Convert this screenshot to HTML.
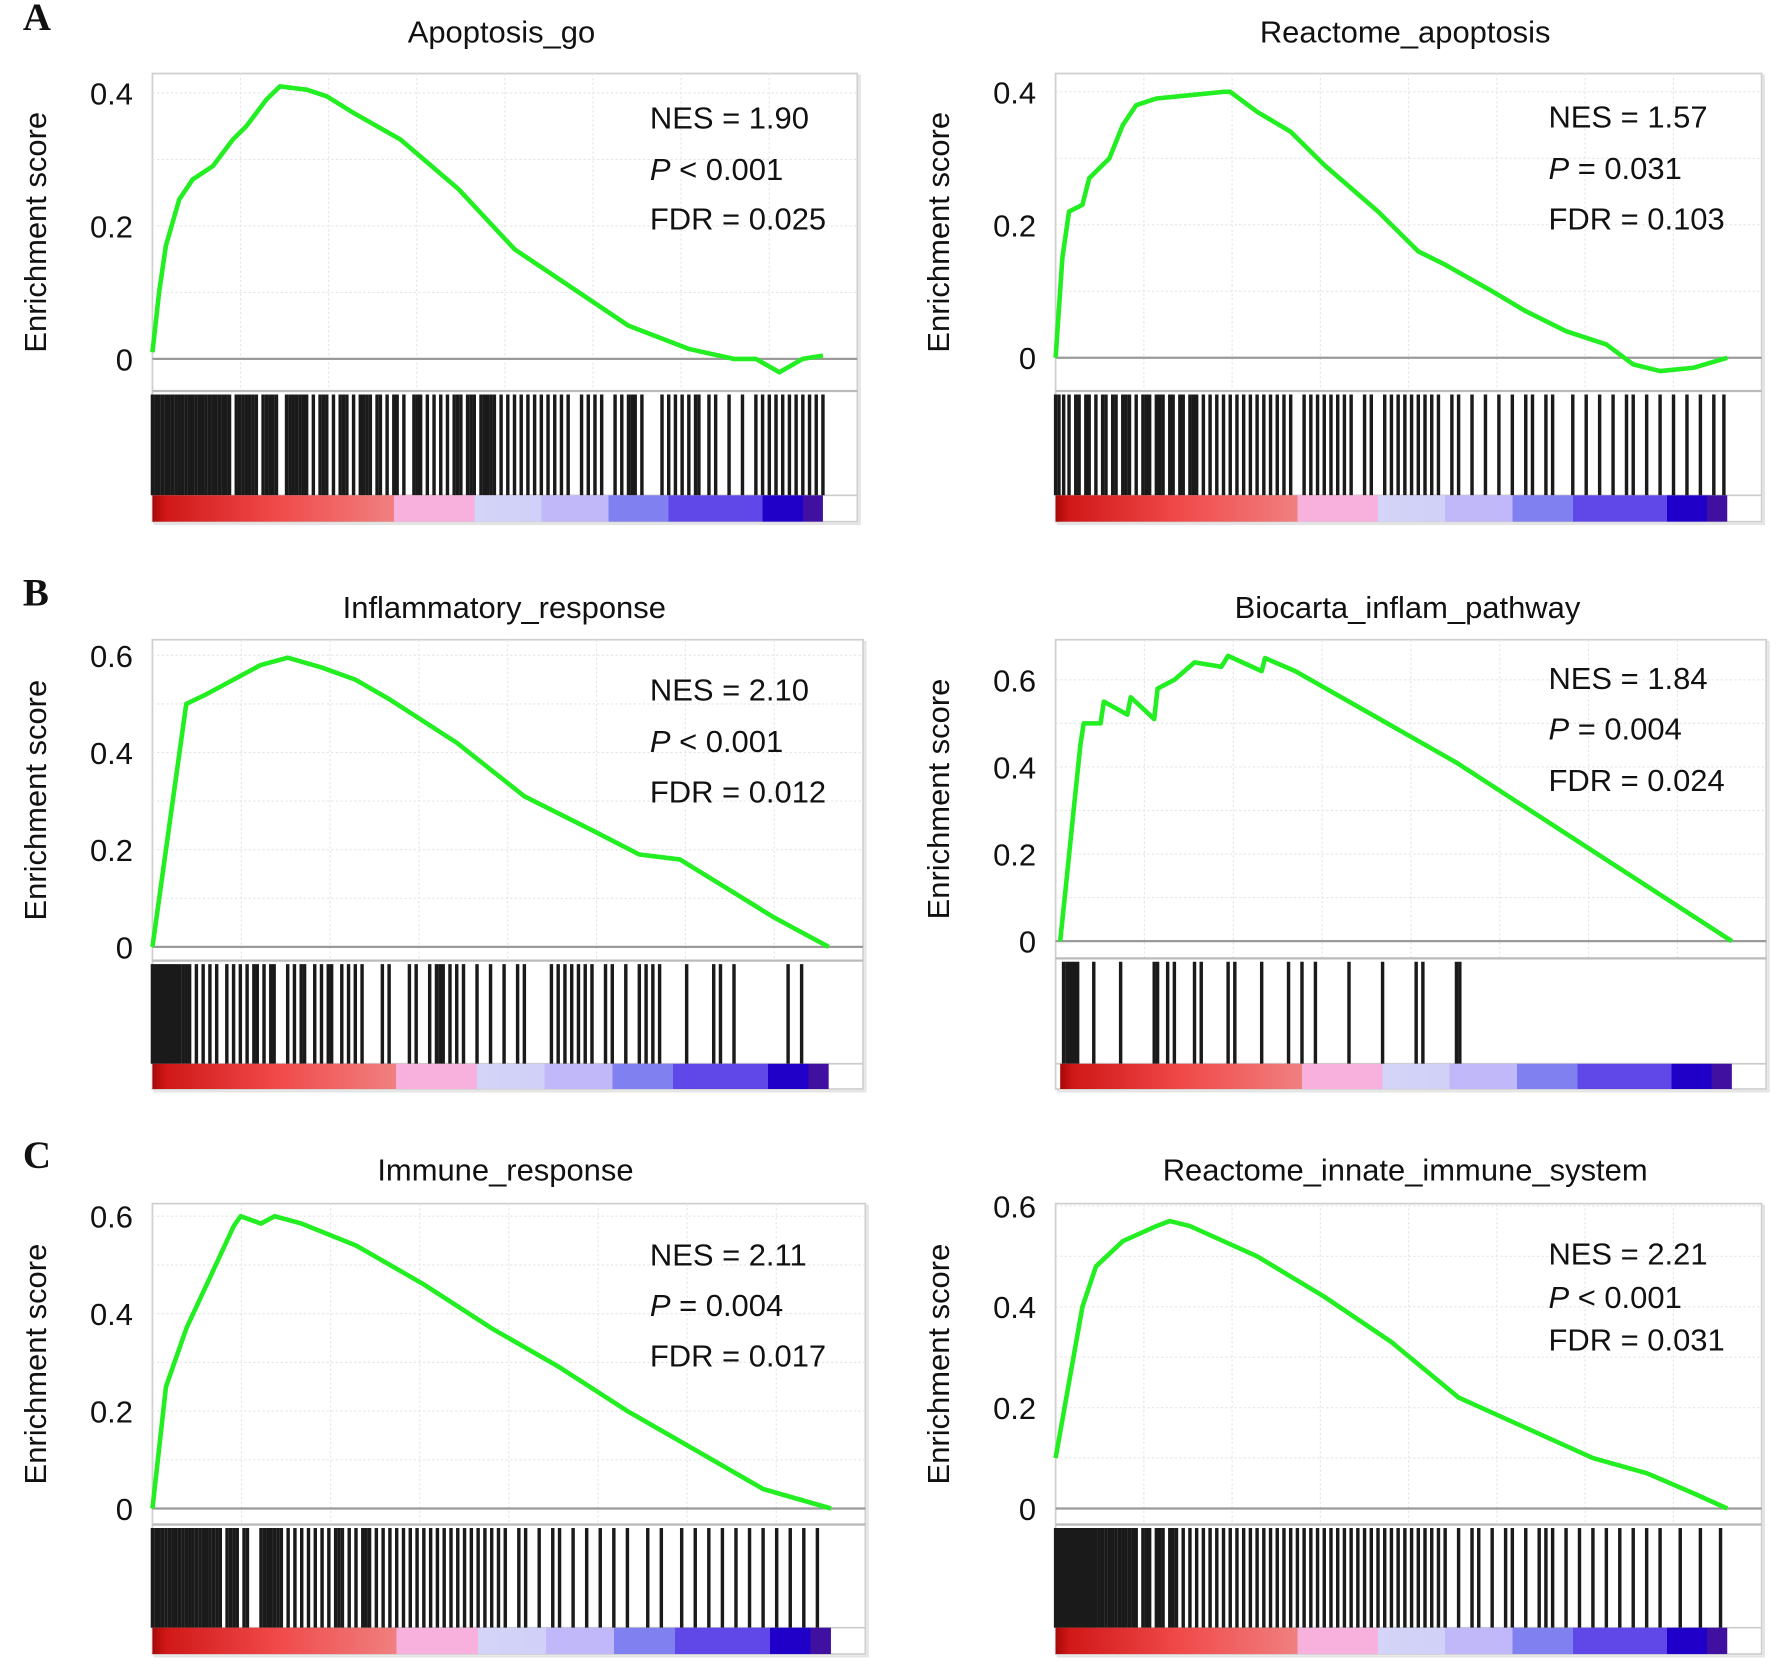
<!DOCTYPE html>
<html><head><meta charset="utf-8">
<style>
html,body{margin:0;padding:0;background:#fff;}
svg{display:block;}
text{font-family:"Liberation Sans",Arial,sans-serif;fill:#111;}
.lt{font-family:"Liberation Serif",serif;font-weight:bold;}
</style></head>
<body>
<svg id="fig" width="1788" height="1676" viewBox="0 0 1560 1462" xmlns="http://www.w3.org/2000/svg">
<defs>
<linearGradient id="rank" x1="0" x2="1" y1="0" y2="0">
<stop offset="0" stop-color="#a80808"/><stop offset="0.02" stop-color="#d01818"/>
<stop offset="0.18" stop-color="#f04848"/><stop offset="0.36" stop-color="#f08080"/>
<stop offset="0.36" stop-color="#f8b0dc"/><stop offset="0.48" stop-color="#f8b0dc"/>
<stop offset="0.48" stop-color="#d4d4f8"/><stop offset="0.58" stop-color="#d0d0f8"/>
<stop offset="0.58" stop-color="#c0b8f8"/><stop offset="0.68" stop-color="#c0b8f8"/>
<stop offset="0.68" stop-color="#8080f0"/><stop offset="0.77" stop-color="#8080f0"/>
<stop offset="0.77" stop-color="#6048e8"/><stop offset="0.91" stop-color="#6048e8"/>
<stop offset="0.91" stop-color="#2000c8"/><stop offset="0.97" stop-color="#2000c8"/>
<stop offset="0.97" stop-color="#4010a0"/><stop offset="1" stop-color="#4010a0"/>
</linearGradient>
</defs>
</svg>
<script>
// ---- data ----
const A1_rank=[0,0.01,0.02,0.04,0.06,0.09,0.12,0.14,0.17,0.19,0.23,0.26,0.3,0.37,0.457,0.54,0.636,0.71,0.8,0.867,0.9,0.935,0.97,1];
const A1_es=[0.01,0.1,0.17,0.24,0.27,0.29,0.33,0.35,0.39,0.41,0.405,0.395,0.37,0.33,0.255,0.165,0.1,0.05,0.015,0.0,0.0,-0.02,0.0,0.005];
const A1_hits=[0,0.005,0.01,0.015,0.02,0.025,0.03,0.035,0.04,0.045,0.05,0.055,0.06,0.065,0.07,0.075,0.08,0.085,0.09,0.095,0.1,0.105,0.11,0.115,0.125,0.13,0.135,0.14,0.145,0.15,0.155,0.165,0.17,0.175,0.18,0.185,0.2,0.205,0.21,0.215,0.22,0.225,0.23,0.24,0.25,0.255,0.26,0.27,0.28,0.285,0.29,0.3,0.31,0.315,0.32,0.325,0.335,0.34,0.35,0.36,0.365,0.375,0.39,0.395,0.4,0.41,0.42,0.43,0.44,0.45,0.455,0.46,0.47,0.475,0.48,0.49,0.495,0.5,0.505,0.51,0.52,0.53,0.54,0.55,0.56,0.57,0.58,0.59,0.6,0.61,0.62,0.64,0.65,0.66,0.67,0.69,0.7,0.71,0.715,0.72,0.73,0.76,0.77,0.78,0.79,0.8,0.81,0.815,0.83,0.84,0.86,0.88,0.9,0.91,0.92,0.93,0.94,0.95,0.96,0.97,0.98,0.99,1];
const A2_rank=[0,0.01,0.02,0.04,0.05,0.08,0.1,0.12,0.15,0.2,0.25,0.26,0.3,0.35,0.4,0.48,0.54,0.58,0.65,0.7,0.76,0.82,0.86,0.9,0.95,1];
const A2_es=[0,0.15,0.22,0.23,0.27,0.3,0.35,0.38,0.39,0.395,0.4,0.4,0.37,0.34,0.29,0.22,0.16,0.14,0.1,0.07,0.04,0.02,-0.01,-0.02,-0.015,0.0];
const A2_hits=[0,0.005,0.012,0.02,0.03,0.035,0.045,0.05,0.06,0.07,0.075,0.085,0.09,0.1,0.105,0.11,0.12,0.13,0.135,0.14,0.15,0.155,0.16,0.17,0.175,0.185,0.19,0.2,0.205,0.21,0.22,0.23,0.24,0.25,0.26,0.27,0.28,0.29,0.3,0.31,0.32,0.33,0.34,0.35,0.37,0.38,0.39,0.4,0.41,0.42,0.43,0.44,0.46,0.47,0.49,0.5,0.51,0.52,0.53,0.54,0.55,0.56,0.57,0.59,0.6,0.62,0.64,0.66,0.68,0.7,0.71,0.73,0.74,0.77,0.79,0.81,0.83,0.85,0.86,0.88,0.9,0.92,0.94,0.96,0.98,0.995];
const B1_rank=[0,0.02,0.04,0.05,0.08,0.12,0.16,0.2,0.25,0.3,0.35,0.45,0.55,0.65,0.72,0.78,0.85,0.92,1];
const B1_es=[0,0.2,0.4,0.5,0.52,0.55,0.58,0.595,0.575,0.55,0.51,0.42,0.31,0.24,0.19,0.18,0.12,0.06,0];
const B1_hits=[0,0.004,0.008,0.012,0.016,0.02,0.024,0.028,0.032,0.036,0.04,0.045,0.05,0.055,0.065,0.075,0.085,0.095,0.11,0.12,0.13,0.14,0.15,0.155,0.165,0.175,0.18,0.2,0.21,0.22,0.225,0.24,0.25,0.26,0.265,0.28,0.29,0.3,0.31,0.34,0.35,0.38,0.39,0.41,0.42,0.425,0.43,0.44,0.45,0.46,0.48,0.5,0.52,0.54,0.55,0.59,0.6,0.61,0.62,0.63,0.64,0.65,0.67,0.68,0.7,0.72,0.73,0.74,0.75,0.79,0.83,0.84,0.86,0.94,0.96];
const B2_rank=[0,0.01,0.02,0.03,0.035,0.06,0.065,0.1,0.105,0.14,0.145,0.17,0.2,0.24,0.25,0.3,0.305,0.35,0.59,1];
const B2_es=[0,0.15,0.3,0.45,0.5,0.5,0.55,0.52,0.56,0.51,0.58,0.6,0.64,0.63,0.655,0.62,0.65,0.62,0.41,0];
const B2_hits=[0.005,0.01,0.014,0.018,0.022,0.026,0.05,0.09,0.14,0.145,0.16,0.17,0.2,0.21,0.25,0.26,0.3,0.34,0.36,0.38,0.43,0.48,0.53,0.54,0.59,0.595];
const C1_rank=[0,0.02,0.05,0.08,0.1,0.12,0.13,0.16,0.18,0.22,0.3,0.4,0.5,0.6,0.7,0.8,0.9,0.95,1];
const C1_es=[0,0.25,0.37,0.46,0.52,0.58,0.6,0.585,0.6,0.585,0.54,0.46,0.37,0.29,0.2,0.12,0.04,0.02,0];
const C1_hits=[0,0.005,0.01,0.015,0.02,0.025,0.03,0.035,0.04,0.045,0.05,0.055,0.06,0.065,0.07,0.075,0.08,0.085,0.09,0.095,0.1,0.11,0.115,0.12,0.125,0.135,0.14,0.16,0.165,0.17,0.175,0.18,0.185,0.19,0.2,0.21,0.22,0.23,0.24,0.25,0.26,0.27,0.275,0.28,0.29,0.3,0.31,0.315,0.32,0.33,0.34,0.35,0.36,0.37,0.38,0.39,0.4,0.41,0.42,0.43,0.44,0.45,0.46,0.47,0.48,0.49,0.5,0.51,0.52,0.54,0.55,0.57,0.59,0.6,0.62,0.64,0.66,0.68,0.7,0.73,0.75,0.78,0.8,0.82,0.84,0.86,0.88,0.9,0.92,0.94,0.96,0.98];
const C2_rank=[0,0.02,0.04,0.06,0.1,0.15,0.17,0.2,0.25,0.3,0.4,0.5,0.6,0.7,0.8,0.88,0.95,1];
const C2_es=[0.1,0.25,0.4,0.48,0.53,0.56,0.57,0.56,0.53,0.5,0.42,0.33,0.22,0.16,0.1,0.07,0.03,0];
const C2_hits=[0,0.004,0.008,0.012,0.016,0.02,0.024,0.028,0.032,0.036,0.04,0.044,0.048,0.052,0.056,0.06,0.065,0.07,0.075,0.08,0.085,0.09,0.095,0.1,0.105,0.11,0.115,0.12,0.13,0.135,0.14,0.15,0.155,0.16,0.17,0.175,0.18,0.19,0.2,0.21,0.22,0.23,0.24,0.25,0.26,0.27,0.28,0.29,0.3,0.31,0.32,0.33,0.34,0.35,0.36,0.37,0.38,0.39,0.4,0.41,0.42,0.43,0.44,0.45,0.46,0.47,0.48,0.49,0.5,0.51,0.52,0.53,0.54,0.55,0.56,0.57,0.58,0.6,0.62,0.63,0.65,0.67,0.68,0.7,0.72,0.73,0.74,0.76,0.78,0.8,0.82,0.84,0.86,0.88,0.9,0.93,0.96,0.99];

const panels=[
 {id:'apoptosis-go',title:'Apoptosis_go',letter:'A',bx:133,bw:615,top:64,x1:718,yTicks:[0,0.2,0.4],y0:313,unit:580,esBot:341,hitBot:432,cbBot:455,lab:['NES = 1.90','< 0.001','FDR = 0.025'],tx:567,ty:[102,147,190],rank:A1_rank,es:A1_es,hits:A1_hits,titleY:28},
 {id:'reactome-apoptosis',title:'Reactome_apoptosis',bx:921,bw:616,top:64,x1:1507,yTicks:[0,0.2,0.4],y0:312,unit:580,esBot:341,hitBot:432,cbBot:455,lab:['NES = 1.57','= 0.031','FDR = 0.103'],tx:1351,ty:[101,146,190],rank:A2_rank,es:A2_es,hits:A2_hits,titleY:28},
 {id:'inflammatory-response',title:'Inflammatory_response',letter:'B',bx:133,bw:620,top:558,x1:723,yTicks:[0,0.2,0.4,0.6],y0:826,unit:424,esBot:838,hitBot:928,cbBot:950,lab:['NES = 2.10','< 0.001','FDR = 0.012'],tx:567,ty:[601,646,690],rank:B1_rank,es:B1_es,hits:B1_hits,titleY:530},
 {id:'biocarta-inflam-pathway',title:'Biocarta_inflam_pathway',bx:921,bw:620,top:558,x0:925,x1:1511,yTicks:[0,0.2,0.4,0.6],y0:821,unit:380,esBot:836,hitBot:928,cbBot:950,lab:['NES = 1.84','= 0.004','FDR = 0.024'],tx:1351,ty:[591,635,680],rank:B2_rank,es:B2_es,hits:B2_hits,titleY:530},
 {id:'immune-response',title:'Immune_response',letter:'C',bx:133,bw:622,top:1050,x1:725,yTicks:[0,0.2,0.4,0.6],y0:1316,unit:425,esBot:1330,hitBot:1420,cbBot:1443,lab:['NES = 2.11','= 0.004','FDR = 0.017'],tx:567,ty:[1094,1138,1182],rank:C1_rank,es:C1_es,hits:C1_hits,titleY:1021},
 {id:'reactome-innate-immune-system',title:'Reactome_innate_immune_system',bx:921,bw:616,top:1050,x1:1507,yTicks:[0,0.2,0.4,0.6],y0:1316,unit:440,esBot:1330,hitBot:1420,cbBot:1443,lab:['NES = 2.21','< 0.001','FDR = 0.031'],tx:1351,ty:[1093,1131,1168],rank:C2_rank,es:C2_es,hits:C2_hits,titleY:1021}
];
const NS='http://www.w3.org/2000/svg';
const svg=document.getElementById('fig');
function mk(tag,attrs,parent,txt){const e=document.createElementNS(NS,tag);for(const k in attrs)e.setAttribute(k,attrs[k]);if(txt!==undefined)e.textContent=txt;(parent||svg).appendChild(e);return e;}

panels.forEach(p=>{
 const g=mk('g',{});
 
 
 const x0=p.x0||p.bx;
 const xs=r=>x0+r*(p.x1-x0);
 const ys=v=>p.y0-v*p.unit;
 const right=p.bx+p.bw;
 mk('rect',{x:p.bx+2,y:p.top+2,width:p.bw,height:p.cbBot-p.top,fill:'none',stroke:'#e4e4e4','stroke-width':2},g);
 const box=mk('rect',{x:p.bx,y:p.top,width:p.bw,height:p.cbBot-p.top,fill:'#fff',stroke:'#cfcfcf','stroke-width':1.5},g);
 
 
 for(let i=1;i<8;i++){const gx=p.bx+i*p.bw/8;mk('line',{x1:gx,x2:gx,y1:p.top,y2:p.esBot,stroke:'#e6e6e6','stroke-width':1,'stroke-dasharray':'2,2'},g);}
 for(let v=-0.1;v<=0.75;v+=0.1){const gy=ys(v);if(gy>p.top&&gy<p.esBot&&Math.abs(v)>1e-6)mk('line',{x1:p.bx,x2:right,y1:gy,y2:gy,stroke:'#e6e6e6','stroke-width':1,'stroke-dasharray':'2,2'},g);}
 mk('line',{x1:p.bx,x2:right,y1:p.y0,y2:p.y0,stroke:'#9a9a9a','stroke-width':2},g);
 mk('line',{x1:p.bx,x2:right,y1:p.esBot,y2:p.esBot,stroke:'#bbb','stroke-width':2},g);
 mk('line',{x1:p.bx,x2:right,y1:p.hitBot,y2:p.hitBot,stroke:'#ccc','stroke-width':1.5},g);
 p.yTicks.forEach(v=>{
  const t=mk('text',{x:p.bx-17,y:ys(v)+10,'text-anchor':'end','font-size':27},g,v===0?'0':v.toFixed(1));
  
  
 });
 const yl=mk('text',{x:0,y:0,'text-anchor':'middle','font-size':27,transform:`translate(${p.bx-93},${(p.top+p.esBot)/2}) rotate(-90)`},g,'Enrichment score');
 
 
 const tt=mk('text',{x:p.bx+p.bw*0.5-3,y:p.titleY+9,'text-anchor':'middle','font-size':27},g,p.title);
 
 
 if(p.letter){const L=mk('text',{x:20,y:p.titleY-2,'font-size':34,class:'lt'},g,p.letter);
  
  }
 p.hits.forEach(h=>{
  const l=mk('line',{x1:xs(h),x2:xs(h),y1:p.esBot+3,y2:p.hitBot,stroke:'#1a1a1a','stroke-width':3},g);
  
  
 });
 const cb=mk('rect',{x:x0,y:p.hitBot,width:p.x1-x0,height:p.cbBot-p.hitBot,fill:'url(#rank)'},g);
 
 
 const pts=p.rank.map((r,i)=>xs(r).toFixed(1)+','+ys(p.es[i]).toFixed(1)).join(' ');
 const c=mk('polyline',{points:pts,fill:'none',stroke:'#22ee22','stroke-width':4,'stroke-linejoin':'round'},g);
 
 
 const s1=mk('text',{x:p.tx,y:p.ty[0]+10,'font-size':27},g,p.lab[0]);
 
 
 const s2=mk('text',{x:p.tx,y:p.ty[1]+10,'font-size':27},g);
 
 
 mk('tspan',{'font-style':'italic'},s2,'P');
 mk('tspan',{},s2,' '+p.lab[1]);
 const s3=mk('text',{x:p.tx,y:p.ty[2]+10,'font-size':27},g,p.lab[2]);
 
 
});
</script>
</body></html>
